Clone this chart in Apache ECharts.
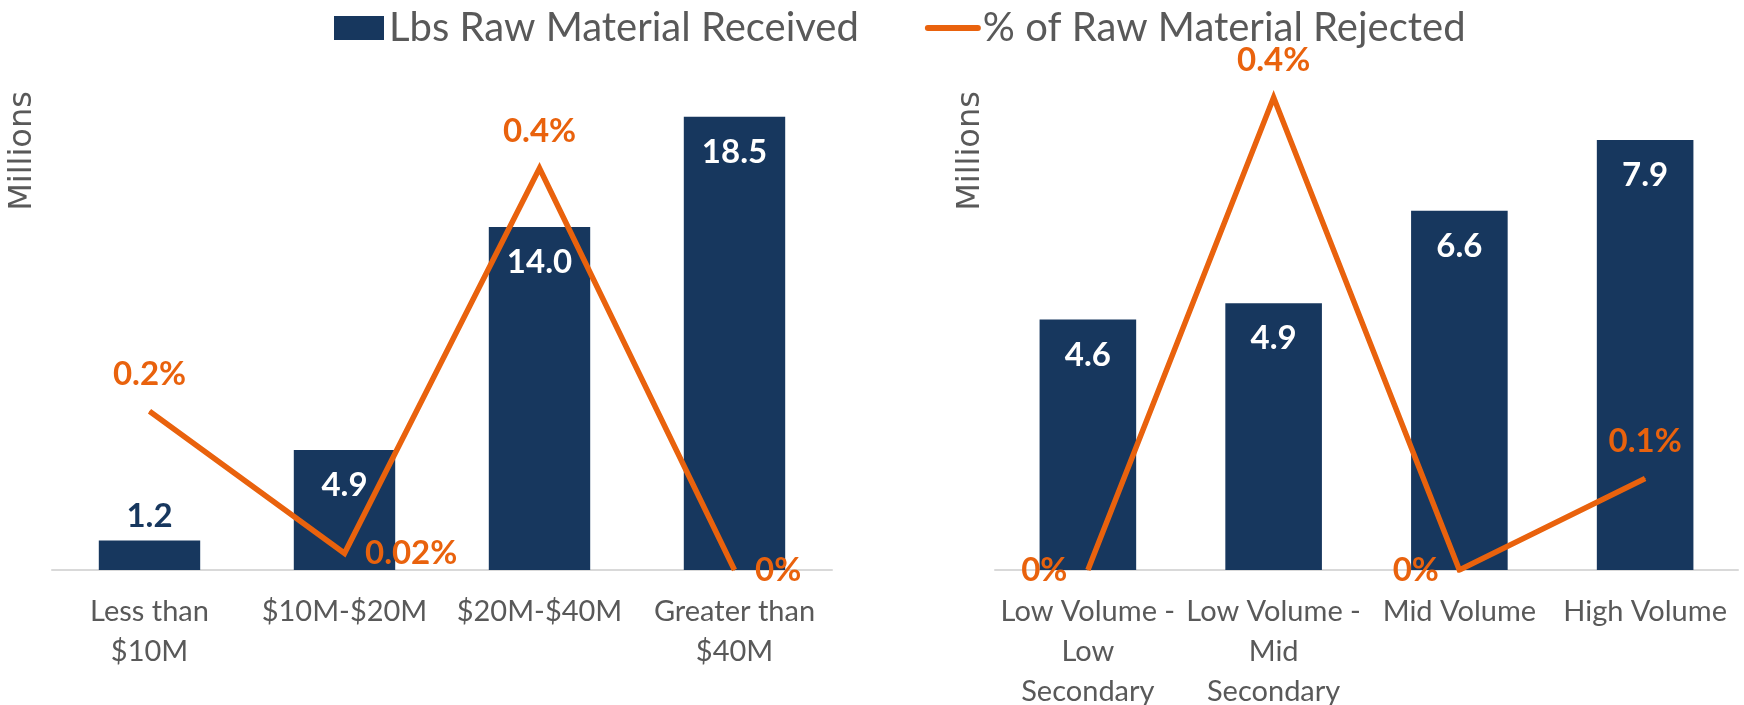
<!DOCTYPE html>
<html>
<head>
<meta charset="utf-8">
<script src="https://cdn.jsdelivr.net/npm/echarts@6/dist/echarts.min.js"></script>
<style>
    html, body { margin: 0; padding: 0; background: #fff; }
    #chart { width: 1744px; height: 705px; }
</style>
</head>
<body>
<div id="chart"></div>
<script>
// 数据：按营收分组
const revenueCategories = ['Less than\n$10M', '$10M-$20M', '$20M-$40M', 'Greater than\n$40M'];
const revenueLbs = [1.2, 4.9, 14.0, 18.5];
const revenueRejected = [0.162, 0.017, 0.41, 0];

// 数据：按产量分组
const volumeCategories = ['Low Volume -\nLow\nSecondary', 'Low Volume -\nMid\nSecondary', 'Mid Volume', 'High Volume'];
const volumeLbs = [4.6, 4.9, 6.6, 7.9];
const volumeRejected = [0, 0.434, 0, 0.084];

const NAVY = '#17375E';
const ORANGE = '#E9620D';
const GREY = '#595959';
const FONT = 'Lato';

function pctLabel(v) {
    if (v === 0) return '0%';
    return (v < 0.05 ? v.toFixed(2) : v.toFixed(1)) + '%';
}

function barSeries(name, idx, values) {
    return {
        name: name,
        type: 'bar',
        xAxisIndex: idx,
        yAxisIndex: idx * 2,
        barWidth: '52%',
        itemStyle: { color: NAVY },
        label: {
            show: true,
            position: 'insideTop',
            distance: 19,
            color: '#fff',
            fontFamily: FONT,
            fontWeight: 'bold',
            fontSize: 33,
            formatter: p => p.value.toFixed(1)
        },
        data: values.map(v => v < 3
            ? { value: v, label: { position: 'top', color: NAVY, distance: 8 } }
            : v)
    };
}

function lineSeries(name, idx, values, positions) {
    return {
        name: name,
        type: 'line',
        xAxisIndex: idx,
        yAxisIndex: idx * 2 + 1,
        symbol: 'circle',
        symbolSize: 1,
        z: 3,
        itemStyle: { color: ORANGE },
        lineStyle: { color: ORANGE, width: 5.5, join: 'miter' },
        label: {
            show: true,
            distance: 20,
            color: ORANGE,
            fontFamily: FONT,
            fontWeight: 'bold',
            fontSize: 33,
            formatter: p => pctLabel(p.value)
        },
        data: values.map((v, i) => ({ value: v, label: { position: positions[i] } }))
    };
}

function xAxis(idx, cats) {
    return {
        type: 'category',
        gridIndex: idx,
        data: cats,
        axisLine: { lineStyle: { color: '#D9D9D9', width: 2 } },
        axisTick: { show: false },
        axisLabel: {
            interval: 0,
            margin: 22,
            color: GREY,
            fontFamily: FONT,
            fontSize: 29,
            lineHeight: 40,
            verticalAlign: 'top'
        }
    };
}

function millionsText(x) {
    return {
        type: 'text', x: x, y: 151, rotation: Math.PI / 2,
        style: { text: 'Millions', fill: GREY, font: '32px "DejaVu Sans"', align: 'center', verticalAlign: 'middle' }
    };
}

function initChart() {
    const chart = echarts.init(document.getElementById('chart'));
    const option = {
        animation: false,
        legend: {
            top: 0,
            left: 329,
            itemWidth: 50,
            itemHeight: 24,
            itemGap: 66,
            textStyle: { color: GREY, fontFamily: FONT, fontSize: 40, lineHeight: 46 },
            data: [
                { name: 'Lbs Raw Material Received', icon: 'rect' },
                {
                    name: '% of Raw Material Rejected',
                    itemStyle: { opacity: 0 },
                    lineStyle: { width: 6, cap: 'round' }
                }
            ]
        },
        grid: [
            { left: 52, width: 780, top: 80, height: 490, outerBoundsMode: 'none' },
            { left: 995, width: 743, top: 80, height: 490, outerBoundsMode: 'none' }
        ],
        xAxis: [xAxis(0, revenueCategories), xAxis(1, volumeCategories)],
        yAxis: [
            { type: 'value', gridIndex: 0, min: 0, max: 20, show: false },
            { type: 'value', gridIndex: 0, min: 0, max: 0.5, show: false },
            { type: 'value', gridIndex: 1, min: 0, max: 9, show: false },
            { type: 'value', gridIndex: 1, min: 0, max: 0.45, show: false }
        ],
        graphic: [millionsText(23), millionsText(971)],
        series: [
            barSeries('Lbs Raw Material Received', 0, revenueLbs),
            lineSeries('% of Raw Material Rejected', 0, revenueRejected, ['top', 'right', 'top', 'right']),
            barSeries('Lbs Raw Material Received', 1, volumeLbs),
            lineSeries('% of Raw Material Rejected', 1, volumeRejected, ['left', 'top', 'left', 'top'])
        ]
    };
    chart.setOption(option);
}

document.addEventListener('DOMContentLoaded', initChart);
</script>
</body>
</html>
